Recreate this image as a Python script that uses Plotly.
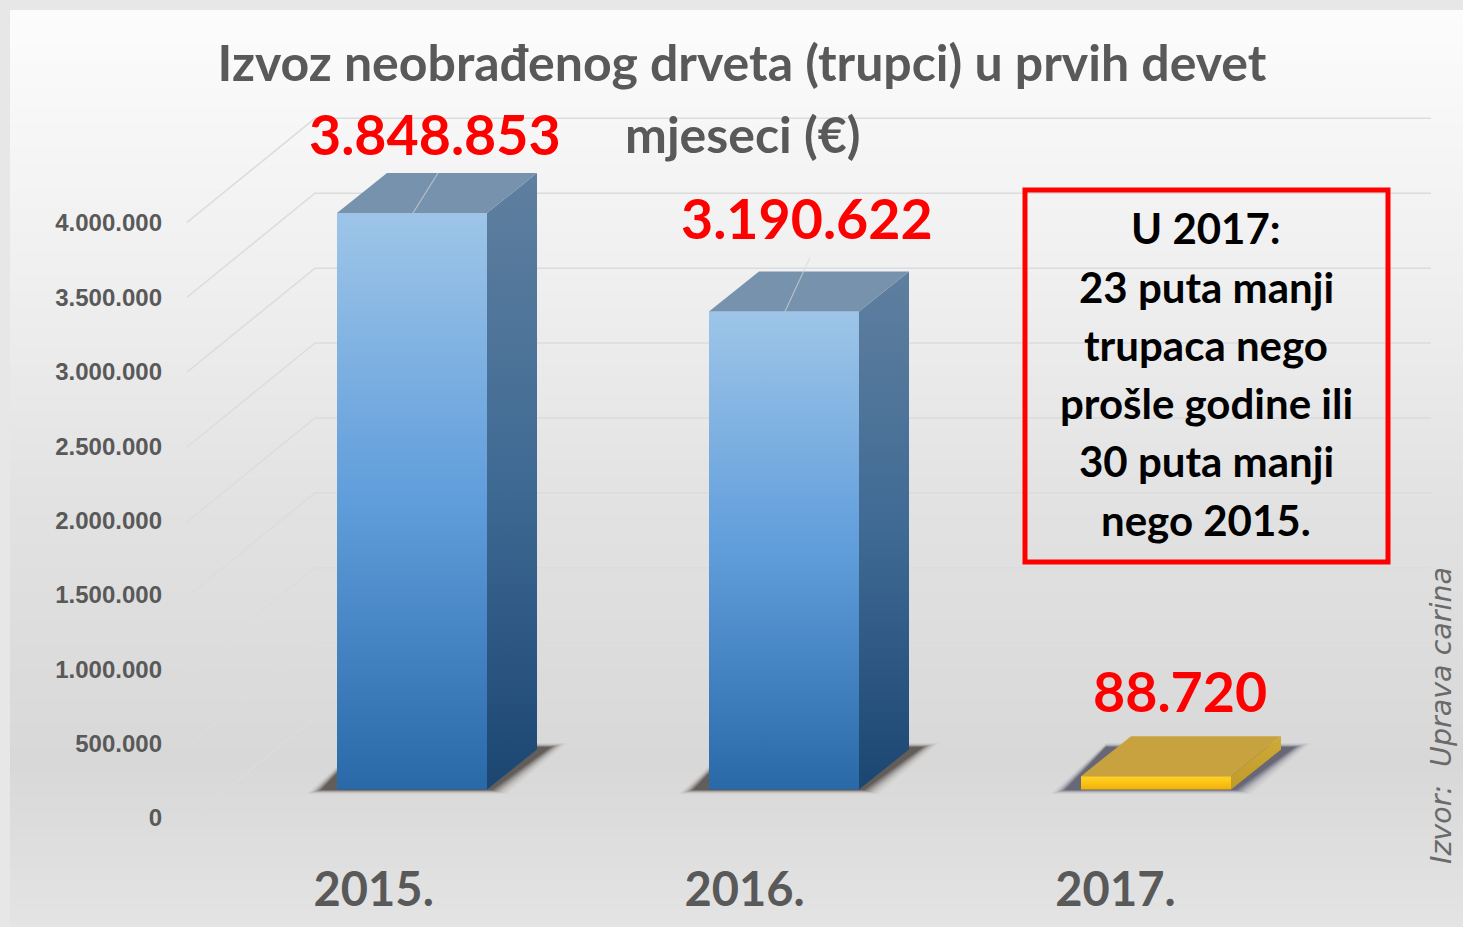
import plotly.graph_objects as go

# ---------- data ----------
years = ["2015.", "2016.", "2017."]
values = [3848853, 3190622, 88720]
value_ticks = [0, 500000, 1000000, 1500000, 2000000, 2500000, 3000000, 3500000, 4000000]
title_line1 = "Izvoz neobrađenog drveta (trupci) u prvih devet"
title_line2 = "mjeseci (€)"
box_lines = ["U 2017:", "23 puta manji", "trupaca nego", "prošle godine ili", "30 puta manji", "nego 2015."]
source_text = "Izvor:  Uprava carina"

# ---------- pixel geometry ----------
W, H = 1463, 927
BASE_PX = 789.5
TOP_PX = 213.0
K = (BASE_PX - TOP_PX) / values[0]      # px per euro
X0_PX, DX_PX = 412.0, 372.0             # bar centre, spacing

def xval(px): return (px - X0_PX) / DX_PX
def ypx(px): return (BASE_PX - px) / K  # value at a pixel row

BAR_W = 150 / DX_PX
DEPTH_X = 50 / DX_PX
DEPTH_Y = 40 / K

fig = go.Figure()

# background panel gradient
stops = [(10, (252, 252, 252)), (300, (238, 238, 238)), (500, (226, 226, 226)),
         (760, (216, 216, 216)), (927, (228, 228, 228))]
def bg(y):
    for (a, ca), (b, cb) in zip(stops, stops[1:]):
        if a <= y <= b:
            t = (y - a) / (b - a)
            return "rgb(%d,%d,%d)" % tuple(round(p + (q - p) * t) for p, q in zip(ca, cb))
    return "rgb(228,228,228)"
shapes = []
for y in range(10, H, 6):
    shapes.append(dict(type="rect", xref="paper", yref="paper", layer="below",
                       x0=10 / W, x1=1, y0=1 - y / H, y1=1 - min(y + 6, H) / H,
                       fillcolor=bg(y), line=dict(width=0)))
# callout box
shapes.append(dict(type="rect", xref="paper", yref="paper", layer="above",
                   x0=1025 / W, x1=1388 / W, y0=1 - 190 / H, y1=1 - 562 / H,
                   line=dict(color="#ff0000", width=5)))

# bars (base layer, solid)
front_colors = ["#5b9bd5", "#5b9bd5", "#ffc000"]
fig.add_trace(go.Bar(x=[0, 1, 2], y=values, width=BAR_W, marker=dict(color=front_colors, line=dict(width=0)),
                     hoverinfo="skip", showlegend=False))

# gridlines on back wall
GRID_FRONT_X, GRID_BACK_X, GRID_RIGHT_X = xval(187), xval(315), xval(1431)
for v in value_ticks:
    fig.add_trace(go.Scatter(x=[GRID_FRONT_X, GRID_BACK_X, GRID_RIGHT_X],
                             y=[v - 32 / K, v + 72 / K, v + 72 / K], mode="lines",
                             line=dict(color="#dcdcdc", width=1.5),
                             hoverinfo="skip", showlegend=False))

def poly(xs, ys, **kw):
    fig.add_trace(go.Scatter(x=xs + xs[:1], y=ys + ys[:1], mode="lines", fill="toself",
                             line=dict(width=0), hoverinfo="skip", showlegend=False, **kw))

def grad(colors):
    n = len(colors) - 1
    # colours are given top to bottom; colorscale runs from low to high value
    return dict(type="vertical", colorscale=[[i / n, c] for i, c in enumerate(reversed(colors))])

styles = [
    dict(front=["#9ec5e8", "#5f9ddb", "#2a69a8"], side=["#5f7f9f", "#3f6a94", "#1c4672"], top="#7692ad"),
    dict(front=["#9ec5e8", "#5f9ddb", "#2a69a8"], side=["#5f7f9f", "#3f6a94", "#1c4672"], top="#7692ad"),
    dict(front=["#ffd02a", "#fbc413", "#eeb010"], side=["#d0aa35", "#c09a2c"], top="#c8a23e"),
]
shadow_layers = [(16, 0.04), (13, 0.06), (10, 0.08), (8, 0.10), (6, 0.13), (4, 0.17), (2, 0.22), (0, 0.28)]

for i, v in enumerate(values):
    l, r = i - BAR_W / 2, i + BAR_W / 2
    # soft shadow from blurred layers
    col = "50,42,36" if i < 2 else "56,56,78"
    for grow, alpha in shadow_layers:
        poly([l - (16 + grow * 0.9) / DX_PX, r + (5 + grow * 0.9) / DX_PX,
              r + DEPTH_X + (14 + grow * 1.0) / DX_PX, l + DEPTH_X - 25 / DX_PX],
             [ypx(790 + grow / 4), ypx(790 + grow / 4), ypx(747 - grow / 4), ypx(747 - grow / 4)],
             fillcolor=f"rgba({col},{alpha})")
    s = styles[i]
    poly([r, r + DEPTH_X, r + DEPTH_X, r], [0, DEPTH_Y, v + DEPTH_Y, v], fillgradient=grad(s["side"]))
    poly([l, r, r + DEPTH_X, l + DEPTH_X], [v, v, v + DEPTH_Y, v + DEPTH_Y], fillcolor=s["top"])
    poly([l, r, r, l], [0, 0, v, v], fillgradient=grad(s["front"]))

# leader lines
for i, v in enumerate(values[:2]):
    fig.add_trace(go.Scatter(x=[i + 1 / DX_PX, i + 26 / DX_PX], y=[v, v + (40 if i == 0 else 54) / K],
                             mode="lines", line=dict(color="rgba(215,215,215,0.65)", width=1.2),
                             hoverinfo="skip", showlegend=False))

# carrier for the value axis labels
fig.add_trace(go.Scatter(x=[xval(187)] * len(value_ticks), y=value_ticks, yaxis="y2", mode="markers",
                         marker=dict(opacity=0), hoverinfo="skip", showlegend=False))

# ---------- texts ----------
ann = []
label_xshift = [23, 23, 24]
label_yshift = [80, 94, 86]
for i, v in enumerate(values):
    ann.append(dict(x=i, y=v, xref="x", yref="y", text=f"{v:,}".replace(",", "."), showarrow=False,
                    xshift=label_xshift[i], yshift=label_yshift[i], xanchor="center", yanchor="middle",
                    font=dict(family="Lato", size=55.5, color="#ff0000", weight="bold")))
for j, line in enumerate(box_lines):
    ann.append(dict(x=1206 / W, y=1 - (228.5 + 58.2 * j) / H, xref="paper", yref="paper", text=line,
                    showarrow=False, xanchor="center", yanchor="middle",
                    font=dict(family="Lato", size=42, color="#000000", weight="bold")))
ann.append(dict(x=742 / W, y=1 - 134 / H, xref="paper", yref="paper", text=title_line2, showarrow=False,
                xanchor="center", yanchor="middle",
                font=dict(family="Lato", size=50, color="#595959", weight="bold")))
ann.append(dict(x=1441 / W, y=1 - 716 / H, xref="paper", yref="paper", text=source_text, showarrow=False,
                textangle=-90, xanchor="center", yanchor="middle",
                font=dict(family="DejaVu Sans", size=28.5, color="#6a6a6a", style="italic")))

fig.update_layout(
    width=W, height=H, margin=dict(l=0, r=0, t=0, b=0),
    paper_bgcolor="#e7e7e7", plot_bgcolor="rgba(0,0,0,0)",
    showlegend=False, barmode="overlay", separators=",.", shapes=shapes, annotations=ann,
    title=dict(text=title_line1, x=742 / W, xanchor="center", xref="paper",
               y=1 - 63 / H, yanchor="middle", yref="paper",
               font=dict(family="Lato", size=50, color="#595959", weight="bold")),
    xaxis=dict(range=[xval(0), xval(W)], domain=[0, 1], tickvals=[-0.103, 0.894, 1.891], ticktext=years,
               anchor="free", position=1 - 858 / H, showgrid=False, zeroline=False, showline=False,
               ticks="", tickfont=dict(family="Lato", size=47, color="#595959", weight="bold")),
    yaxis=dict(range=[ypx(H), ypx(0)], domain=[0, 1], visible=False, showgrid=False, zeroline=False),
    yaxis2=dict(range=[(818 - H) / 74.375 * 500000, 818 / 74.375 * 500000], overlaying="y", side="left",
                anchor="free", position=162 / W, tickvals=value_ticks, tickformat=",d", showgrid=False,
                zeroline=False, showline=False, ticks="",
                tickfont=dict(family="Liberation Sans", size=24, color="#595959", weight="bold")),
)
fig.write_html("out.html", config={"displayModeBar": False}, post_script="document.body.style.margin='0';")
